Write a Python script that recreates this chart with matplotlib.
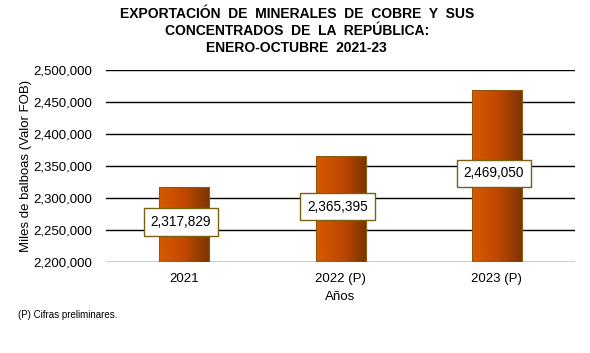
import matplotlib
matplotlib.use('Agg')
import matplotlib.pyplot as plt
import numpy as np
from matplotlib.patches import Rectangle
from matplotlib.colors import LinearSegmentedColormap

years = ['2021', '2022 (P)', '2023 (P)']
values = [2317829, 2365395, 2469050]
ymin, ymax, ystep = 2200000, 2500000, 50000

plt.rcParams['font.family'] = ['Liberation Sans', 'DejaVu Sans']

fig = plt.figure(figsize=(5.9, 3.53), dpi=100)
ax = fig.add_axes([0.1797, 0.2578, 0.795, 0.544])

x = np.arange(len(years))
width = 0.32
cmap = LinearSegmentedColormap.from_list('bar', ['#d85a00', '#c04800', '#7a3400'])
grad = np.linspace(0, 1, 256).reshape(1, -1)

ax.set_xlim(-0.5, len(years) - 0.5)
ax.set_ylim(ymin, ymax)

for xi, v in zip(x, values):
    rect = Rectangle((xi - width / 2, ymin), width, v - ymin,
                     facecolor='none', edgecolor='#8a5a10', linewidth=0.8, zorder=3)
    ax.add_patch(rect)
    im = ax.imshow(grad, cmap=cmap, aspect='auto', zorder=2,
                   extent=(xi - width / 2, xi + width / 2, ymin, v))
    im.set_clip_path(rect)
    ax.text(xi - 0.02, (v + ymin) / 2 + 4000, f'{v:,}', ha='center', va='center',
            fontsize=9.8, zorder=5,
            bbox=dict(boxstyle='square,pad=0.5', facecolor='white',
                      edgecolor='#7a6010', linewidth=1.0))

ax.set_xlim(-0.5, len(years) - 0.5)
ax.set_ylim(ymin, ymax)
ax.set_yticks(np.arange(ymin, ymax + 1, ystep))
ax.yaxis.set_major_formatter(matplotlib.ticker.FuncFormatter(lambda v, p: f'{int(v):,}'))
ax.grid(axis='y', color='black', linewidth=1.0, zorder=1)
ax.set_axisbelow(True)
for s in ax.spines.values():
    s.set_visible(False)
ax.tick_params(axis='y', length=0, pad=10, labelsize=9.5)
ax.tick_params(axis='x', length=0, pad=8, labelsize=9.5)
ax.set_xticks(x)
ax.set_xticklabels(years)
ax.set_xlabel('Años', fontsize=9.5, labelpad=4)
ax.set_ylabel('Miles de balboas (Valor FOB)', fontsize=9.5, labelpad=1)

fig.text(0.503, 1 - 7 / 353, 'EXPORTACIÓN  DE  MINERALES  DE  COBRE  Y  SUS\nCONCENTRADOS  DE  LA  REPÚBLICA:\nENERO-OCTUBRE  2021-23',
         ha='center', va='top', fontsize=10, fontweight='bold', linespacing=1.25)
fig.text(0.03, 0.108, '(P) Cifras preliminares.', fontsize=7, va='center')

fig.savefig('out.png', dpi=100)
